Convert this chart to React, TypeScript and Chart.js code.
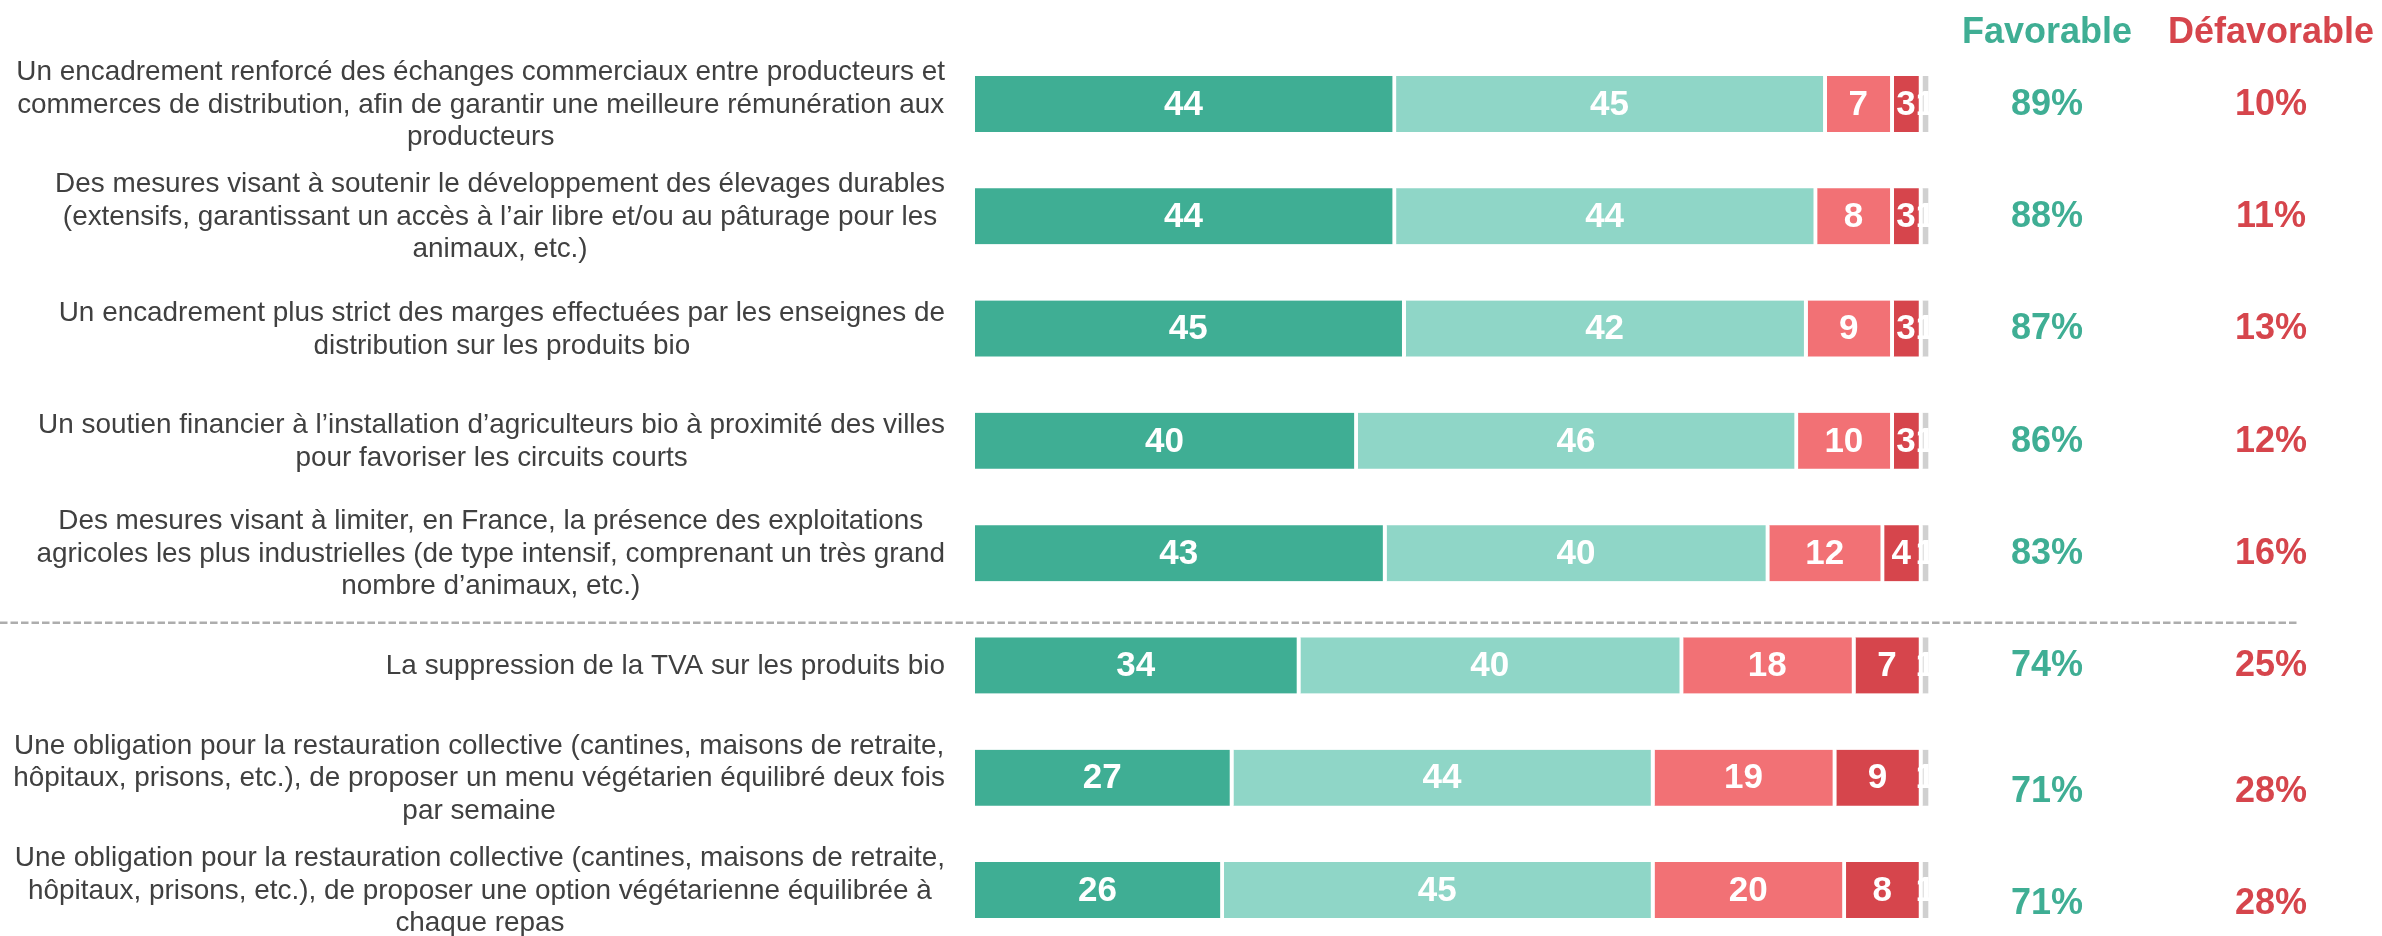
import React, { useEffect, useRef } from "react";
import { Chart, registerables } from "chart.js";

Chart.register(...registerables);

const categories: string[][] = [
  ["Un encadrement renforcé des échanges commerciaux entre producteurs et", "commerces de distribution, afin de garantir une meilleure rémunération aux", "producteurs"],
  ["Des mesures visant à soutenir le développement des élevages durables", "(extensifs, garantissant un accès à l’air libre et/ou au pâturage pour les", "animaux, etc.)"],
  ["Un encadrement plus strict des marges effectuées par les enseignes de", "distribution sur les produits bio"],
  ["Un soutien financier à l’installation d’agriculteurs bio à proximité des villes", "pour favoriser les circuits courts"],
  ["Des mesures visant à limiter, en France, la présence des exploitations", "agricoles les plus industrielles (de type intensif, comprenant un très grand", "nombre d’animaux, etc.)"],
  ["La suppression de la TVA sur les produits bio"],
  ["Une obligation pour la restauration collective (cantines, maisons de retraite,", "hôpitaux, prisons, etc.), de proposer un menu végétarien équilibré deux fois", "par semaine"],
  ["Une obligation pour la restauration collective (cantines, maisons de retraite,", "hôpitaux, prisons, etc.), de proposer une option végétarienne équilibrée à", "chaque repas"],
];

const toutAFaitFavorable = [44, 44, 45, 40, 43, 34, 27, 26];
const plutotFavorable = [45, 44, 42, 46, 40, 40, 44, 45];
const plutotDefavorable = [7, 8, 9, 10, 12, 18, 19, 20];
const toutAFaitDefavorable = [3, 3, 3, 3, 4, 7, 9, 8];
const nsp = [1, 1, 1, 1, 1, 1, 1, 1];

const favorableTotals = [89, 88, 87, 86, 83, 74, 71, 71];
const defavorableTotals = [10, 11, 13, 12, 16, 25, 28, 28];

const headerFavorable = "Favorable";
const headerDefavorable = "Défavorable";

const seriesNames = ["Tout à fait favorable", "Plutôt favorable", "Plutôt défavorable", "Tout à fait défavorable", "NSP"];

const GREEN = "#3fae94";
const TEAL = "#8fd6c7";
const SALMON = "#f27175";
const RED = "#d6454c";
const GRAY = "#d0d0d0";
const FONT = "'Liberation Sans', Arial, sans-serif";

const overlayPlugin = {
  id: "overlay",
  afterDatasetsDraw(chart: any) {
    const ctx = chart.ctx as CanvasRenderingContext2D;
    const yScale = chart.scales.y;
    ctx.save();
    // bar value labels
    ctx.font = `bold 35px ${FONT}`;
    ctx.fillStyle = "#ffffff";
    ctx.textAlign = "center";
    ctx.textBaseline = "middle";
    chart.data.datasets.forEach((ds: any, di: number) => {
      const meta = chart.getDatasetMeta(di);
      meta.data.forEach((el: any, i: number) => {
        const p = el.getProps(["x", "y", "base"], true);
        const cx = (p.x + p.base - 4) / 2;
        ctx.fillText(String(ds.data[i]), cx, p.y + 1);
      });
    });

    // left category labels: block right-aligned, lines centered
    ctx.font = `27.9px ${FONT}`;
    ctx.fillStyle = "#404040";
    const rightEdge = 945;
    const lh = 32.5;
    categories.forEach((lines, i) => {
      const cy = yScale.getPixelForValue(i);
      const widest = Math.max(...lines.map((l) => ctx.measureText(l).width));
      const cx = rightEdge - widest / 2;
      const start = cy - ((lines.length - 1) * lh) / 2;
      lines.forEach((l, k) => ctx.fillText(l, cx, start + k * lh + 1));
    });

    // right columns
    const favX = 2047;
    const defX = 2271;
    ctx.font = `bold 36px ${FONT}`;
    ctx.fillStyle = GREEN;
    ctx.fillText(headerFavorable, favX, 33);
    ctx.fillStyle = RED;
    ctx.fillText(headerDefavorable, defX, 33);
    const n = favorableTotals.length;
    favorableTotals.forEach((v, i) => {
      const shift = i >= n - 2 ? 13 : 0;
      const cy = yScale.getPixelForValue(i) + shift;
      ctx.fillStyle = GREEN;
      ctx.fillText(`${v}%`, favX, cy + 1);
      ctx.fillStyle = RED;
      ctx.fillText(`${defavorableTotals[i]}%`, defX, cy + 1);
    });

    // dashed separator between row 5 and row 6
    const y5 = yScale.getPixelForValue(4);
    const y6 = yScale.getPixelForValue(5);
    const sepY = y5 + (y6 - y5) * 0.62;
    ctx.strokeStyle = "#adadad";
    ctx.lineWidth = 2.5;
    ctx.setLineDash([7.5, 3]);
    ctx.beginPath();
    ctx.moveTo(0, sepY);
    ctx.lineTo(2299, sepY);
    ctx.stroke();
    ctx.restore();
  },
};

export default function App() {
  const canvasRef = useRef<HTMLCanvasElement | null>(null);

  useEffect(() => {
    document.body.style.margin = "0";
    const canvas = canvasRef.current;
    if (!canvas) return;
    const colors = [GREEN, TEAL, SALMON, RED, GRAY];
    const series = [toutAFaitFavorable, plutotFavorable, plutotDefavorable, toutAFaitDefavorable, nsp];
    const chart = new Chart(canvas, {
      type: "bar",
      data: {
        labels: categories.map((c) => c.join(" ")),
        datasets: series.map((d, i) => ({
          label: seriesNames[i],
          data: d,
          backgroundColor: colors[i],
          borderColor: "#ffffff",
          borderWidth: { left: 0, right: 4, top: 0, bottom: 0 },
          borderSkipped: false,
          barThickness: 56,
          clip: false as any,
        })),
      },
      options: {
        indexAxis: "y",
        animation: false,
        responsive: false,
        maintainAspectRatio: false,
        layout: { padding: { left: 975, right: 450, top: 104, bottom: 46 } },
        plugins: { legend: { display: false }, tooltip: { enabled: false } },
        scales: {
          x: { stacked: true, min: 0, max: 100, display: false },
          y: { stacked: true, display: false, offset: false },
        },
      },
      plugins: [overlayPlugin],
    });
    return () => chart.destroy();
  }, []);

  return (
    <div style={{ width: 2382, height: 936 }}>
      <canvas ref={canvasRef} width={2382} height={936} style={{ display: "block", width: 2382, height: 936 }} />
    </div>
  );
}
